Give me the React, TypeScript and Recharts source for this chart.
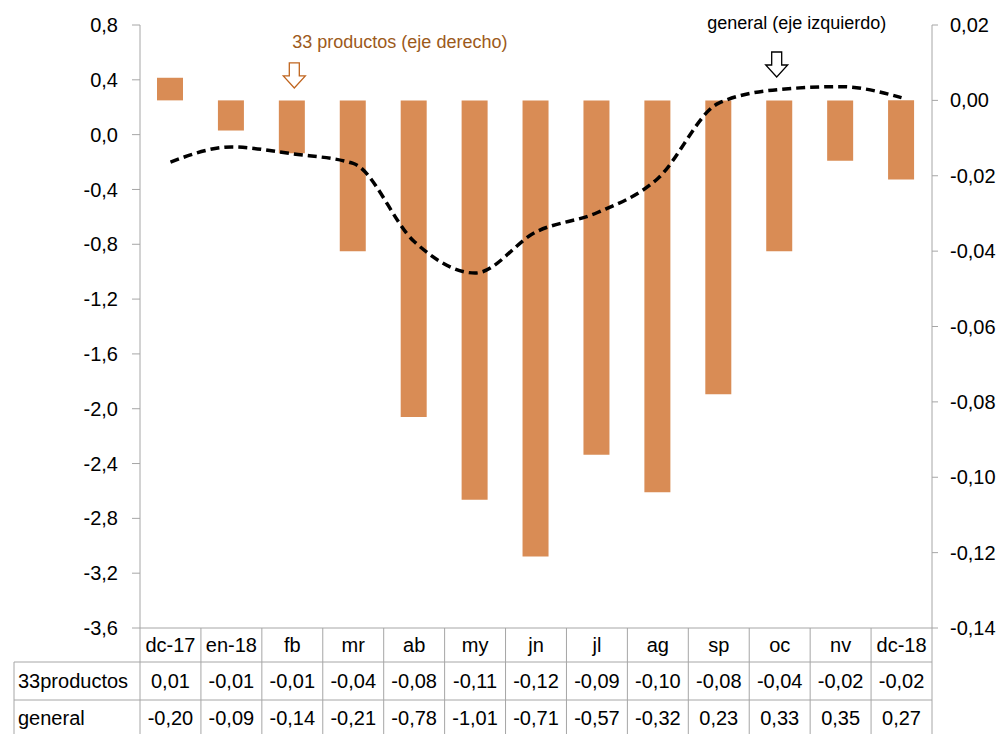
import { ComposedChart, Bar, Line, XAxis, YAxis, ReferenceDot } from 'recharts';

const months = ['dc-17', 'en-18', 'fb', 'mr', 'ab', 'my', 'jn', 'jl', 'ag', 'sp', 'oc', 'nv', 'dc-18'];
// 33 productos, right axis
const productos33 = [0.006, -0.008, -0.014, -0.04, -0.084, -0.106, -0.121, -0.094, -0.104, -0.078, -0.04, -0.016, -0.021];
// general, left axis
const general = [-0.2, -0.09, -0.14, -0.21, -0.78, -1.01, -0.71, -0.57, -0.32, 0.23, 0.33, 0.35, 0.27];

const leftTicks = [0.8, 0.4, 0, -0.4, -0.8, -1.2, -1.6, -2.0, -2.4, -2.8, -3.2, -3.6];
const rightTicks = [0.02, 0, -0.02, -0.04, -0.06, -0.08, -0.1, -0.12, -0.14];

const rowLabels = ['33productos', 'general'];

const data = months.map((m, i) => ({ month: m, productos: productos33[i], general: general[i] }));

const FONT = '"Liberation Sans", Arial, sans-serif';
const GRID = '#a6a6a6';
const BAR = '#d98c55';

const fmt = (v: number, d: number) => v.toFixed(d).replace('.', ',');

function TableTick(props: any) {
  const { x, y, index, payload, width, visibleTicksCount } = props;
  const w = width / visibleTicksCount;
  const l = x - w / 2;
  const r = x + w / 2;
  const top = y;
  const row1 = top + 34;
  const row2 = top + 72;
  const bottom = top + 110;
  const i = index;
  return (
    <g fontFamily={FONT} fontSize={20} fill="#000">
      <line x1={r} y1={top} x2={r} y2={bottom} stroke={GRID} />
      {i === 0 && <line x1={l} y1={top} x2={l} y2={bottom} stroke={GRID} />}
      <line x1={l} y1={row1} x2={r} y2={row1} stroke={GRID} />
      <line x1={l} y1={row2} x2={r} y2={row2} stroke={GRID} />
      <text x={x} y={top + 17} textAnchor="middle" dominantBaseline="central">{payload.value}</text>
      <text x={x} y={row1 + 19} textAnchor="middle" dominantBaseline="central">{fmt(productos33[i], 2)}</text>
      <text x={x} y={row2 + 18} textAnchor="middle" dominantBaseline="central">{fmt(general[i], 2)}</text>
      {i === 0 && (
        <g>
          <line x1={14} y1={row1} x2={l} y2={row1} stroke={GRID} />
          <line x1={14} y1={row2} x2={l} y2={row2} stroke={GRID} />
          <line x1={14} y1={row1} x2={14} y2={bottom} stroke={GRID} />
          <text x={18} y={row1 + 19} dominantBaseline="central">{rowLabels[0]}</text>
          <text x={18} y={row2 + 18} dominantBaseline="central">{rowLabels[1]}</text>
        </g>
      )}
    </g>
  );
}

function arrowPath(cx: number, top: number) {
  return `M${cx - 5},${top} L${cx + 5},${top} L${cx + 5},${top + 13} L${cx + 11},${top + 13} L${cx},${top + 25} L${cx - 11},${top + 13} L${cx - 5},${top + 13} Z`;
}

const ProductosNote = (p: any) => (
  <g fontFamily={FONT}>
    <path d={arrowPath(p.cx + 2, p.cy)} fill="#fff" stroke="#c0651f" strokeWidth={1.3} />
    <text x={p.cx} y={p.cy - 21} fontSize={18} fill="#9c5a1a" dominantBaseline="central">33 productos (eje derecho)</text>
  </g>
);

const GeneralNote = (p: any) => (
  <g fontFamily={FONT}>
    <path d={arrowPath(p.cx - 3, p.cy)} fill="#fff" stroke="#000" strokeWidth={1.3} />
    <text x={p.cx + 17} y={p.cy - 29} fontSize={18} fill="#000" textAnchor="middle" dominantBaseline="central">general (eje izquierdo)</text>
  </g>
);

export default function App() {
  return (
    <div style={{ position: 'absolute', left: 0, top: 0, width: 1002, height: 734, background: '#fff' }}>
      <ComposedChart
        width={1002}
        height={734}
        data={data}
        margin={{ top: 25, right: 0, left: 0, bottom: 0 }}
      >
        <XAxis
          dataKey="month"
          height={106}
          interval={0}
          tickLine={false}
          tickSize={0}
          tickMargin={0}
          axisLine={{ stroke: GRID }}
          tick={<TableTick />}
        />
        <YAxis
          yAxisId="left"
          domain={[-3.6, 0.8]}
          ticks={leftTicks}
          width={140}
          tickFormatter={(v: number) => fmt(v, 1)}
          tick={{ fontSize: 20, fill: '#000', fontFamily: FONT }}
          tickSize={8}
          tickMargin={14}
          axisLine={{ stroke: GRID }}
          tickLine={{ stroke: GRID }}
        />
        <YAxis
          yAxisId="right"
          orientation="right"
          domain={[-0.14, 0.02]}
          ticks={rightTicks}
          width={70}
          tickFormatter={(v: number) => fmt(v, 2)}
          tick={{ fontSize: 20, fill: '#000', fontFamily: FONT }}
          tickSize={6}
          tickMargin={12}
          axisLine={{ stroke: GRID }}
          tickLine={{ stroke: GRID }}
        />
        <Bar yAxisId="right" dataKey="productos" fill={BAR} barSize={26} isAnimationActive={false} />
        <Line
          yAxisId="left"
          type="monotone"
          dataKey="general"
          stroke="#000"
          strokeWidth={3.5}
          strokeDasharray="9 5"
          dot={false}
          activeDot={false}
          isAnimationActive={false}
        />
        <ReferenceDot yAxisId="left" x="fb" y={0.523} shape={ProductosNote} ifOverflow="visible" />
        <ReferenceDot yAxisId="left" x="oc" y={0.603} shape={GeneralNote} ifOverflow="visible" />
      </ComposedChart>
    </div>
  );
}
